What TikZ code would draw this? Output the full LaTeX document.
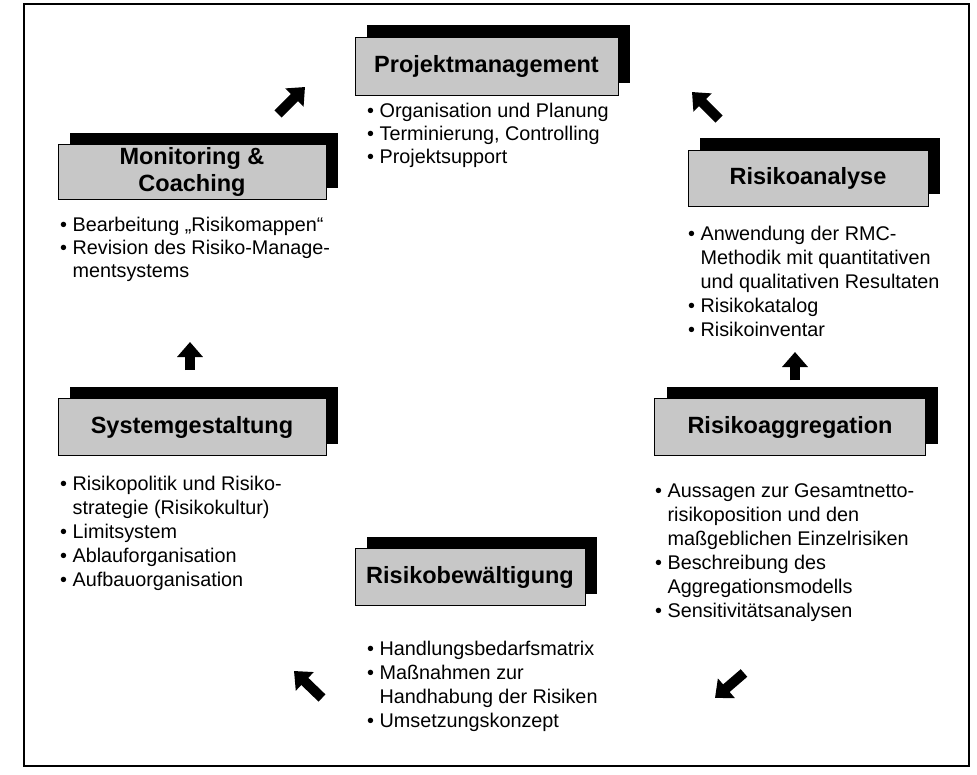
\documentclass[tikz,border=0pt]{standalone}
\usepackage{fontspec}
\setmainfont{Liberation Sans}
\usetikzlibrary{shadows,arrows.meta}
\newcommand\bulind{\phantom{\textbullet\ }}
\newcommand\bul{\textbullet\ }
\begin{document}
\begin{tikzpicture}[x=1pt,y=-1pt,
  titlebox/.style={draw=black, line width=0.7pt, fill=black!22, inner sep=0pt,
    align=center, font=\bfseries\fontsize{23.5}{27}\selectfont,
    drop shadow={shadow xshift=12pt, shadow yshift=12pt, fill=black, opacity=1, draw=none}},
  listtext/.style={anchor=north west, inner sep=0pt, align=left,
    font=\fontsize{19.8}{23}\selectfont},
  listwide/.style={listtext, font=\fontsize{19.8}{24}\selectfont},
  blockarrow/.style={line width=10pt, -{Triangle[length=15pt,width=25pt]}},
  frame/.style={draw=black, line width=1.2pt}]
\useasboundingbox (0,0) rectangle (977,774);
\draw[frame] (24,4) rectangle (969,766);

% title boxes
\node[titlebox, minimum width=263pt, minimum height=58pt] (pm) at (486.5,66) {Projektmanagement};
\node[titlebox, minimum width=268pt, minimum height=55pt] (mon) at (192,172) {Monitoring \&\\Coaching};
\node[titlebox, minimum width=240pt, minimum height=56pt] (ra) at (808,178) {Risikoanalyse};
\node[titlebox, minimum width=268pt, minimum height=57pt] (sys) at (192,427) {Systemgestaltung};
\node[titlebox, minimum width=271pt, minimum height=57pt] (agg) at (790,427) {Risikoaggregation};
\node[titlebox, minimum width=230pt, minimum height=57pt] (bew) at (470,577) {Risikobewältigung};

% lists
\node[listtext] (pml) at (367,100.9) {\strut\bul Organisation und Planung\\\bul Terminierung, Controlling\\\bul Projektsupport};
\node[listtext] (monl) at (60,214.9) {\strut\bul Bearbeitung „Risikomappen“\\\bul Revision des Risiko-Manage-\\\bulind mentsystems};
\node[listwide] (ral) at (688,223.2) {\strut\bul Anwendung der RMC-\\\bulind Methodik mit quantitativen\\\bulind und qualitativen Resultaten\\\bul Risikokatalog\\\bul Risikoinventar};
\node[listwide] (sysl) at (60,473.2) {\strut\bul Risikopolitik und Risiko-\\\bulind strategie (Risikokultur)\\\bul Limitsystem\\\bul Ablauforganisation\\\bul Aufbauorganisation};
\node[listwide] (aggl) at (655,480.2) {\strut\bul Aussagen zur Gesamtnetto-\\\bulind risikoposition und den\\\bulind maßgeblichen Einzelrisiken\\\bul Beschreibung des\\\bulind Aggregationsmodells\\\bul Sensitivitätsanalysen};
\node[listwide] (bewl) at (367,638.2) {\strut\bul Handlungsbedarfsmatrix\\\bul Maßnahmen zur\\\bulind Handhabung der Risiken\\\bul Umsetzungskonzept};

% arrows
\coordinate (a1s) at (278,114); \coordinate (a1e) at (305,87);
\coordinate (a2s) at (719,119); \coordinate (a2e) at (692,92);
\coordinate (a3s) at (795,380); \coordinate (a3e) at (795,352);
\coordinate (a4s) at (190,370); \coordinate (a4e) at (190,342);
\coordinate (a5s) at (744,673); \coordinate (a5e) at (715,698);
\coordinate (a6s) at (322,698); \coordinate (a6e) at (294,671);
\draw[blockarrow] (a1s) -- (a1e);
\draw[blockarrow] (a2s) -- (a2e);
\draw[blockarrow] (a3s) -- (a3e);
\draw[blockarrow] (a4s) -- (a4e);
\draw[blockarrow] (a5s) -- (a5e);
\draw[blockarrow] (a6s) -- (a6e);
\end{tikzpicture}
\end{document}
